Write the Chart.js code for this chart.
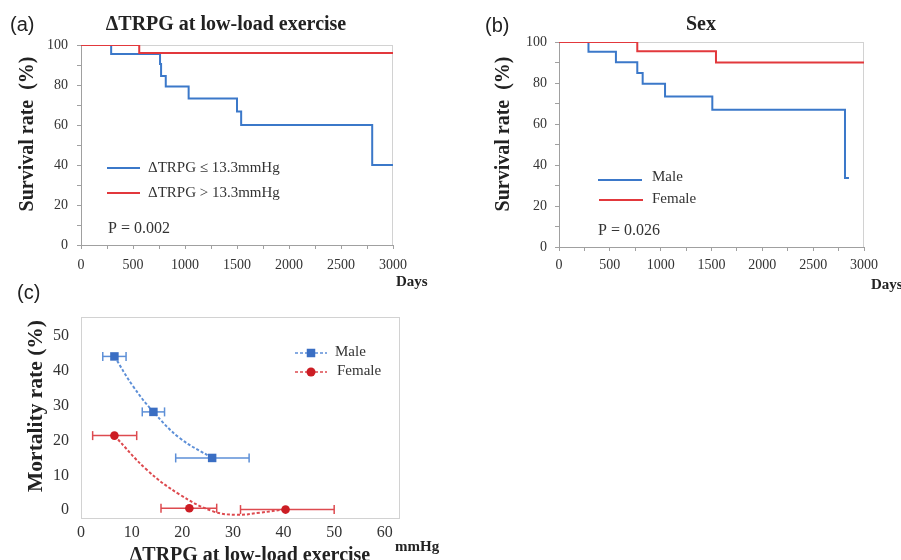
<!DOCTYPE html>
<html><head><meta charset="utf-8">
<script src="https://cdn.jsdelivr.net/npm/chart.js@4.4.0/dist/chart.umd.min.js"></script>
<style>
html,body{margin:0;padding:0;background:#fff;}
#wrap{position:relative;width:901px;height:560px;overflow:hidden;background:#fff;}
canvas{position:absolute;}
</style></head><body>
<div id="wrap">
<canvas id="cA" width="450" height="290" style="left:0;top:0"></canvas>
<canvas id="cC" width="450" height="280" style="left:0;top:280px"></canvas>
<canvas id="cB" width="451" height="300" style="left:450px;top:0"></canvas>
</div>
<script>
// ---------- DATA ----------
// (a) Kaplan-Meier by ΔTRPG at low-load exercise
const daysA_low  = [0, 290, 760, 770, 815, 1035, 1500, 1540, 2800, 3000];
const survA_low  = [100, 95.5, 90.5, 84.5, 79.3, 73.2, 66.7, 60, 40, 40];
const daysA_high = [0, 560, 3000];
const survA_high = [100, 96, 96];
// (b) Kaplan-Meier by sex
const daysB_male   = [0, 290, 560, 770, 823, 1043, 1508, 2813, 2852];
const survB_male   = [100, 95.2, 90.1, 84.9, 79.6, 73.4, 66.9, 33.7, 33.7];
const daysB_female = [0, 770, 1544, 3000];
const survB_female = [100, 95.5, 90, 90];
// tick labels
const kmXTickLabels = [0, 500, 1000, 1500, 2000, 2500, 3000];
const kmYTickLabels = [0, 20, 40, 60, 80, 100];
const cXTickLabels = [0, 10, 20, 30, 40, 50, 60];
const cYTickLabels = [0, 10, 20, 30, 40, 50];
// (c) mortality rate vs ΔTRPG
const trpgMale    = [6.6, 14.3, 25.9];
const mortMale    = [44.1, 28.2, 15.0];
const maleErrLo   = [4.3, 12.1, 18.7];
const maleErrHi   = [8.9, 16.5, 33.2];
const trpgFemale  = [6.6, 21.4, 40.4];
const mortFemale  = [21.4, 0.6, 0.2];
const femaleErrLo = [2.3, 15.8, 31.5];
const femaleErrHi = [11.0, 26.8, 50.0];
// fitted dashed trend curves
const maleTrendX   = [6.6, 10.3, 14.3, 19.5, 25.9];
const maleTrendY   = [44.1, 35.5, 28.2, 20.7, 15.0];
const femaleTrendX = [6.6, 13.0, 19.5, 26.1, 30.7, 35.3, 40.4];
const femaleTrendY = [21.4, 11.6, 4.5, -0.3, -1.3, -0.7, 0.3];

// ---------- STYLE ----------
const SERIF = '"Liberation Serif", "Times New Roman", serif';
const SANS = '"Liberation Sans", Arial, sans-serif';
const BLUE = '#3b78c9', RED = '#e2383c';
const AXIS = '#a0a0a0', FRAME = '#d2d2d2', TICK = '#333';
const pts = (xs, ys) => xs.map((x, i) => ({x, y: ys[i]}));

function overlay(id, items, frameSides) {
  return {
    id,
    beforeDatasetsDraw(chart) {
      const {ctx, chartArea: a} = chart;
      ctx.save();
      ctx.strokeStyle = FRAME; ctx.lineWidth = 1;
      ctx.beginPath();
      if (frameSides.includes('t')) { ctx.moveTo(a.left, a.top + 0.5); ctx.lineTo(a.right, a.top + 0.5); }
      if (frameSides.includes('r')) { ctx.moveTo(a.right - 0.5, a.top); ctx.lineTo(a.right - 0.5, a.bottom); }
      if (frameSides.includes('b')) { ctx.moveTo(a.left, a.bottom - 0.5); ctx.lineTo(a.right, a.bottom - 0.5); }
      if (frameSides.includes('l')) { ctx.moveTo(a.left + 0.5, a.top); ctx.lineTo(a.left + 0.5, a.bottom); }
      ctx.stroke();
      ctx.restore();
    },
    afterDraw(chart) {
      const ctx = chart.ctx;
      for (const t of items) {
        ctx.save();
        if (t.line) {
          ctx.strokeStyle = t.color; ctx.lineWidth = t.width || 2;
          ctx.setLineDash(t.dash || []);
          ctx.beginPath(); ctx.moveTo(t.line[0], t.line[1]); ctx.lineTo(t.line[2], t.line[3]); ctx.stroke();
        } else if (t.marker) {
          ctx.fillStyle = t.color;
          ctx.beginPath();
          if (t.marker === 'rect') ctx.rect(t.x - t.size / 2, t.y - t.size / 2, t.size, t.size);
          else ctx.arc(t.x, t.y, t.size / 2, 0, Math.PI * 2);
          ctx.fill();
        } else {
          ctx.font = t.font; ctx.fillStyle = t.color || '#222';
          ctx.textAlign = t.align || 'left'; ctx.textBaseline = t.baseline || 'middle';
          ctx.translate(t.x, t.y);
          if (t.rot) ctx.rotate(t.rot);
          ctx.fillText(t.text, 0, 0);
        }
        ctx.restore();
      }
    }
  };
}

function kmScales(fix, pad) {
  return {
    x: {
      type: 'linear', min: 0, max: 3000,
      afterFit: s => { s.height = fix.xh; },
      grid: {drawOnChartArea: false, drawTicks: true, tickLength: 4, color: AXIS},
      border: {color: AXIS, width: 1},
      ticks: {stepSize: 250, autoSkip: false, maxRotation: 0, padding: pad.x, color: TICK,
        font: {family: SERIF, size: 14},
        callback: v => kmXTickLabels.includes(v) ? String(v) : ''}
    },
    y: {
      type: 'linear', min: 0, max: 100,
      afterFit: s => { s.width = fix.yw; },
      grid: {drawOnChartArea: false, drawTicks: true, tickLength: 4, color: AXIS},
      border: {color: AXIS, width: 1},
      ticks: {stepSize: 10, autoSkip: false, padding: pad.y, color: TICK,
        font: {family: SERIF, size: 14},
        callback: v => kmYTickLabels.includes(v) ? String(v) : ''}
    }
  };
}
const commonPlugins = {legend: {display: false}, tooltip: {enabled: false}, title: {display: false}};

// ---------- (a) ----------
new Chart(document.getElementById('cA'), {
  type: 'line',
  data: {datasets: [
    {label: 'ΔTRPG > 13.3mmHg', data: pts(daysA_high, survA_high), stepped: 'before', borderColor: RED, borderWidth: 2, pointRadius: 0, order: 0},
    {label: 'ΔTRPG ≤ 13.3mmHg', data: pts(daysA_low, survA_low), stepped: 'before', borderColor: BLUE, borderWidth: 2, pointRadius: 0, order: 1}
  ]},
  options: {
    responsive: false, animation: false, events: [],
    layout: {padding: {left: 0, right: 57, top: 45, bottom: 0}},
    scales: kmScales({xh: 45, yw: 81}, {x: 8, y: 9}),
    plugins: commonPlugins
  },
  plugins: [overlay('ovA', [
    {text: '(a)', x: 10, y: 25, font: '20px ' + SANS},
    {text: 'ΔTRPG at low-load exercise', x: 226, y: 25, align: 'center', font: 'bold 20px ' + SERIF},
    {text: 'Survival rate  (%)', x: 28, y: 134, align: 'center', rot: -Math.PI / 2, font: 'bold 20px ' + SERIF},
    {text: 'Days', x: 396, y: 282, font: 'bold 15px ' + SERIF},
    {line: [107, 168, 140, 168], color: BLUE},
    {text: 'ΔTRPG ≤ 13.3mmHg', x: 148, y: 168, font: '15px ' + SERIF, color: '#333'},
    {line: [107, 193, 140, 193], color: RED},
    {text: 'ΔTRPG > 13.3mmHg', x: 148, y: 193, font: '15px ' + SERIF, color: '#333'},
    {text: 'P = 0.002', x: 108, y: 229, font: '16px ' + SERIF, color: '#333'}
  ], 'tr')]
});

// ---------- (b) ----------
new Chart(document.getElementById('cB'), {
  type: 'line',
  data: {datasets: [
    {label: 'Female', data: pts(daysB_female, survB_female), stepped: 'before', borderColor: RED, borderWidth: 2, pointRadius: 0, order: 0},
    {label: 'Male', data: pts(daysB_male, survB_male), stepped: 'before', borderColor: BLUE, borderWidth: 2, pointRadius: 0, order: 1}
  ]},
  options: {
    responsive: false, animation: false, events: [],
    layout: {padding: {left: 0, right: 37, top: 42, bottom: 0}},
    scales: kmScales({xh: 53, yw: 109}, {x: 6, y: 8}),
    plugins: commonPlugins
  },
  plugins: [overlay('ovB', [
    {text: '(b)', x: 35, y: 26, font: '20px ' + SANS},
    {text: 'Sex', x: 251, y: 25, align: 'center', font: 'bold 20px ' + SERIF},
    {text: 'Survival rate  (%)', x: 54, y: 134, align: 'center', rot: -Math.PI / 2, font: 'bold 20px ' + SERIF},
    {text: 'Days', x: 421, y: 285, font: 'bold 15px ' + SERIF},
    {line: [148, 180, 192, 180], color: BLUE},
    {text: 'Male', x: 202, y: 177, font: '15px ' + SERIF, color: '#333'},
    {line: [149, 200, 193, 200], color: RED},
    {text: 'Female', x: 202, y: 199, font: '15px ' + SERIF, color: '#333'},
    {text: 'P = 0.026', x: 148, y: 231, font: '16px ' + SERIF, color: '#333'}
  ], 'tr')]
});

// ---------- (c) ----------
const C_BLUE = '#3a6ec3', C_BLUE_L = '#5d8fd7', C_RED = '#cc1d24', C_RED_L = '#dd4a4f';
const cDatasets = [
  {label: 'Male', data: pts(trpgMale, mortMale), pointStyle: 'rect', pointRadius: 6, pointBackgroundColor: C_BLUE, pointBorderColor: C_BLUE, pointBorderWidth: 0, showLine: false},
  {label: 'Female', data: pts(trpgFemale, mortFemale), pointStyle: 'circle', pointRadius: 4.3, pointBackgroundColor: C_RED, pointBorderColor: C_RED, pointBorderWidth: 0, showLine: false}
];
trpgMale.forEach((_, i) => cDatasets.push({
  label: 'Male SD', data: [{x: maleErrLo[i], y: mortMale[i]}, {x: maleErrHi[i], y: mortMale[i]}],
  showLine: true, borderColor: C_BLUE_L, borderWidth: 1.5, pointStyle: 'line', rotation: 90,
  pointRadius: 4.5, pointBorderColor: C_BLUE_L, pointBorderWidth: 1.5
}));
trpgFemale.forEach((_, i) => cDatasets.push({
  label: 'Female SD', data: [{x: femaleErrLo[i], y: mortFemale[i]}, {x: femaleErrHi[i], y: mortFemale[i]}],
  showLine: true, borderColor: C_RED_L, borderWidth: 1.5, pointStyle: 'line', rotation: 90,
  pointRadius: 4.5, pointBorderColor: C_RED_L, pointBorderWidth: 1.5
}));
cDatasets.push(
  {label: 'Male trend', data: pts(maleTrendX, maleTrendY), showLine: true, tension: 0.4, borderColor: C_BLUE_L, borderWidth: 2, borderDash: [3, 2], pointRadius: 0},
  {label: 'Female trend', data: pts(femaleTrendX, femaleTrendY), showLine: true, tension: 0.4, borderColor: C_RED_L, borderWidth: 2, borderDash: [3, 2], pointRadius: 0}
);

new Chart(document.getElementById('cC'), {
  type: 'scatter',
  data: {datasets: cDatasets},
  options: {
    responsive: false, animation: false, events: [],
    layout: {padding: {left: 0, right: 50, top: 37, bottom: 0}},
    scales: {
      x: {
        type: 'linear', min: 0, max: 63,
        afterFit: s => { s.height = 41; },
        afterBuildTicks: s => { s.ticks = cXTickLabels.map(v => ({value: v})); },
        grid: {display: false, drawTicks: false},
        border: {display: false},
        ticks: {autoSkip: false, maxRotation: 0, padding: 4, color: TICK, font: {family: SERIF, size: 16}}
      },
      y: {
        type: 'linear', min: -2.5, max: 55.4,
        afterFit: s => { s.width = 81; },
        afterBuildTicks: s => { s.ticks = cYTickLabels.map(v => ({value: v})); },
        grid: {display: false, drawTicks: false},
        border: {display: false},
        ticks: {autoSkip: false, padding: 12, color: TICK, font: {family: SERIF, size: 16}}
      }
    },
    plugins: commonPlugins
  },
  plugins: [overlay('ovC', [
    {text: '(c)', x: 17, y: 13, font: '20px ' + SANS},
    {text: 'Mortality rate (%)', x: 36, y: 126, align: 'center', rot: -Math.PI / 2, font: 'bold 21.5px ' + SERIF},
    {text: 'ΔTRPG at low-load exercise', x: 250, y: 281, align: 'center', baseline: 'alphabetic', font: 'bold 20px ' + SERIF},
    {text: 'mmHg', x: 395, y: 267, font: 'bold 15px ' + SERIF},
    {line: [295, 73, 327, 73], color: C_BLUE_L, width: 1.5, dash: [3, 2]},
    {marker: 'rect', x: 311, y: 73, size: 8.5, color: C_BLUE},
    {text: 'Male', x: 335, y: 72, font: '15px ' + SERIF, color: '#333'},
    {line: [295, 92, 327, 92], color: C_RED_L, width: 1.5, dash: [3, 2]},
    {marker: 'circle', x: 311, y: 92, size: 9, color: C_RED},
    {text: 'Female', x: 337, y: 91, font: '15px ' + SERIF, color: '#333'}
  ], 'trbl')]
});
</script>
</body></html>
